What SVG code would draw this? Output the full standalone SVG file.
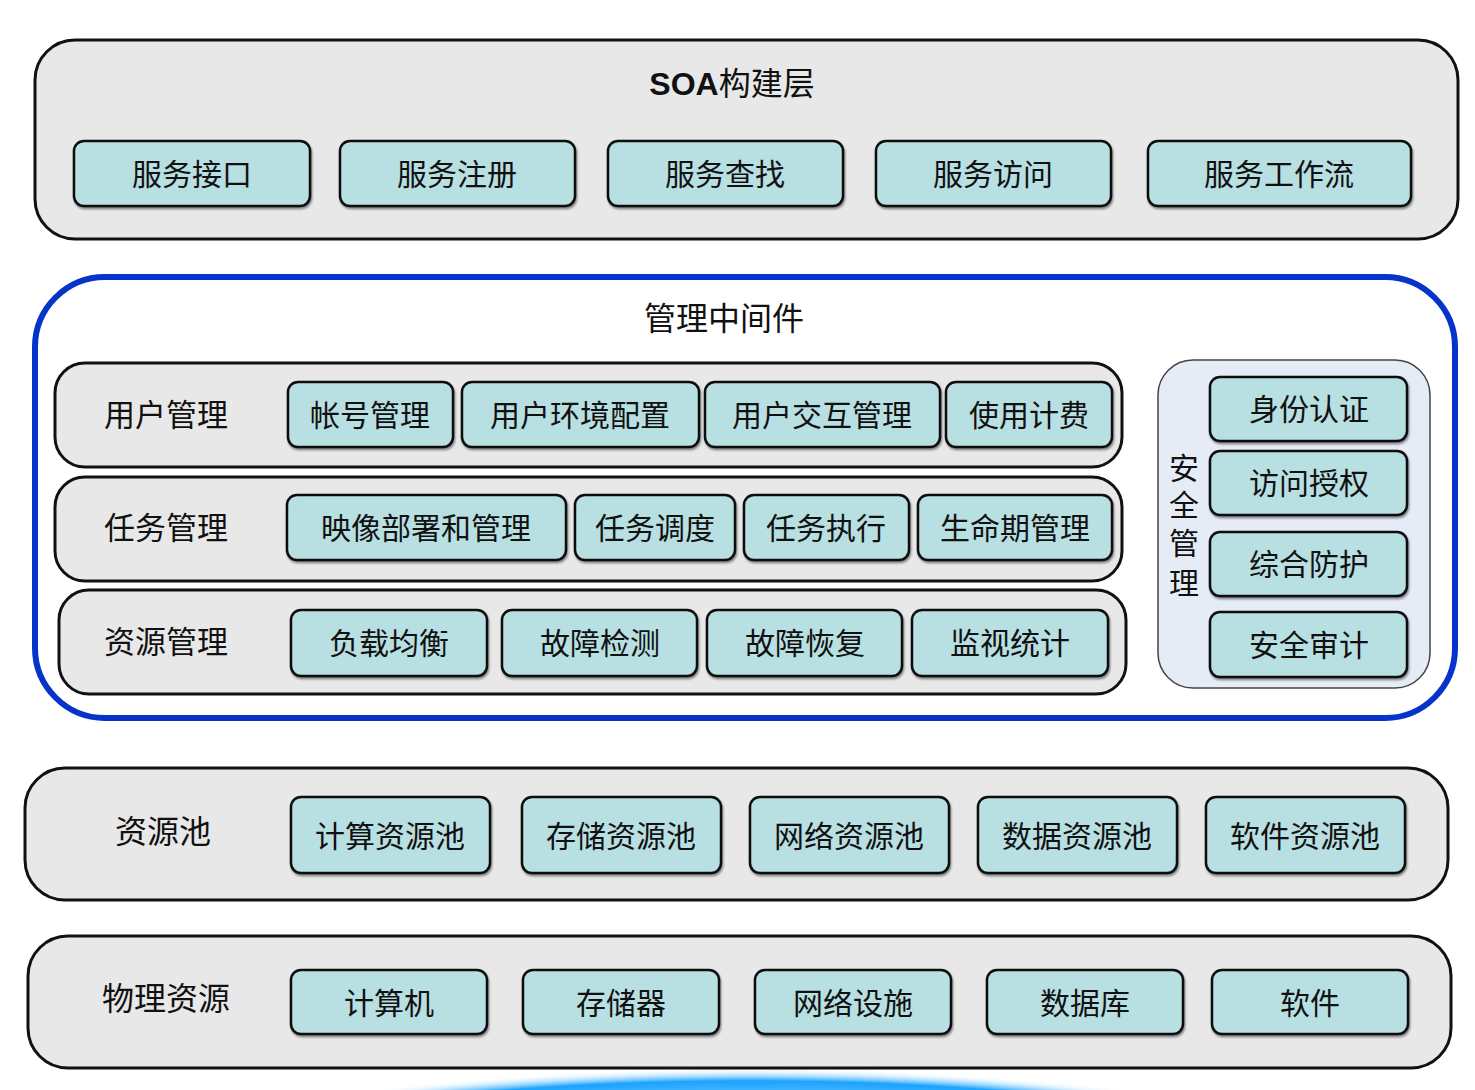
<svg xmlns="http://www.w3.org/2000/svg" width="1475" height="1090" viewBox="0 0 1475 1090">
<defs>
<filter id="sh" x="-5%" y="-5%" width="110%" height="115%"><feDropShadow dx="1" dy="2" stdDeviation="0.8" flood-color="#000" flood-opacity="0.45"/></filter>
<radialGradient id="glow" cx="0.5" cy="0.5" r="0.5">
<stop offset="0" stop-color="#e8f6ff"/>
<stop offset="0.75" stop-color="#9fd6ff"/>
<stop offset="0.93" stop-color="#1aa3ff"/>
<stop offset="1" stop-color="#ffffff" stop-opacity="0"/>
</radialGradient>
<style>
text{font-family:"Liberation Serif","Noto Sans CJK SC",serif;fill:#111;text-anchor:middle;dominant-baseline:central}
.layer{fill:#e8e8e8;stroke:#111;stroke-width:3}
.box{fill:#b8dfe2;stroke:#111;stroke-width:2.5;filter:url(#sh)}
.bt{font-size:30px}
.lt{font-size:31px}
.big{font-size:32px}
</style>
</defs>
<ellipse cx="750" cy="1251" rx="800" ry="183" fill="url(#glow)"/>

<g id="soa">
<rect class="layer" x="35" y="40" width="1423" height="199" rx="40"/>
<text x="732" y="84" class="big"><tspan font-family="Liberation Sans,sans-serif" font-weight="bold">SOA</tspan>构建层</text>
</g>
<g id="soa-1"><rect class="box" x="74" y="141" width="236" height="65" rx="10"/><text class="bt" x="192" y="174">服务接口</text></g>
<g id="soa-2"><rect class="box" x="340" y="141" width="235" height="65" rx="10"/><text class="bt" x="457" y="174">服务注册</text></g>
<g id="soa-3"><rect class="box" x="608" y="141" width="235" height="65" rx="10"/><text class="bt" x="725" y="174">服务查找</text></g>
<g id="soa-4"><rect class="box" x="876" y="141" width="235" height="65" rx="10"/><text class="bt" x="993" y="174">服务访问</text></g>
<g id="soa-5"><rect class="box" x="1148" y="141" width="263" height="65" rx="10"/><text class="bt" x="1279" y="174">服务工作流</text></g>

<g id="middleware">
<rect x="35" y="277" width="1420" height="441" rx="70" fill="#fff" stroke="#0633c9" stroke-width="6"/>
<text x="724" y="319" class="big">管理中间件</text>
</g>

<g id="user-mgmt">
<rect class="layer" x="55" y="363" width="1067" height="104" rx="30" stroke-width="2.5"/>
<text class="lt" x="166" y="415">用户管理</text>
</g>
<g id="um-1"><rect class="box" x="288" y="382" width="165" height="65" rx="10"/><text class="bt" x="370" y="415">帐号管理</text></g>
<g id="um-2"><rect class="box" x="462" y="382" width="237" height="65" rx="10"/><text class="bt" x="580" y="415">用户环境配置</text></g>
<g id="um-3"><rect class="box" x="705" y="382" width="235" height="65" rx="10"/><text class="bt" x="822" y="415">用户交互管理</text></g>
<g id="um-4"><rect class="box" x="946" y="382" width="166" height="65" rx="10"/><text class="bt" x="1029" y="415">使用计费</text></g>

<g id="task-mgmt">
<rect class="layer" x="55" y="477" width="1067" height="104" rx="30" stroke-width="2.5"/>
<text class="lt" x="166" y="528">任务管理</text>
</g>
<g id="tm-1"><rect class="box" x="287" y="495" width="279" height="65" rx="10"/><text class="bt" x="426" y="528">映像部署和管理</text></g>
<g id="tm-2"><rect class="box" x="575" y="495" width="160" height="65" rx="10"/><text class="bt" x="655" y="528">任务调度</text></g>
<g id="tm-3"><rect class="box" x="744" y="495" width="165" height="65" rx="10"/><text class="bt" x="826" y="528">任务执行</text></g>
<g id="tm-4"><rect class="box" x="918" y="495" width="194" height="65" rx="10"/><text class="bt" x="1015" y="528">生命期管理</text></g>

<g id="res-mgmt">
<rect class="layer" x="59" y="590" width="1067" height="104" rx="30" stroke-width="2.5"/>
<text class="lt" x="166" y="642">资源管理</text>
</g>
<g id="rm-1"><rect class="box" x="291" y="610" width="196" height="66" rx="10"/><text class="bt" x="389" y="643">负载均衡</text></g>
<g id="rm-2"><rect class="box" x="502" y="610" width="195" height="66" rx="10"/><text class="bt" x="600" y="643">故障检测</text></g>
<g id="rm-3"><rect class="box" x="707" y="610" width="195" height="66" rx="10"/><text class="bt" x="805" y="643">故障恢复</text></g>
<g id="rm-4"><rect class="box" x="912" y="610" width="196" height="66" rx="10"/><text class="bt" x="1010" y="643">监视统计</text></g>

<g id="security">
<rect x="1158" y="360" width="272" height="328" rx="35" fill="#e6ecf6" stroke="#444" stroke-width="1.5"/>
<text class="bt" x="1184" y="468" font-size="29">安</text>
<text class="bt" x="1184" y="505" font-size="29">全</text>
<text class="bt" x="1184" y="543" font-size="29">管</text>
<text class="bt" x="1184" y="583" font-size="29">理</text>
</g>
<g id="sec-1"><rect class="box" x="1210" y="377" width="197" height="64" rx="10"/><text class="bt" x="1309" y="409">身份认证</text></g>
<g id="sec-2"><rect class="box" x="1210" y="451" width="197" height="64" rx="10"/><text class="bt" x="1309" y="483">访问授权</text></g>
<g id="sec-3"><rect class="box" x="1210" y="532" width="197" height="64" rx="10"/><text class="bt" x="1309" y="564">综合防护</text></g>
<g id="sec-4"><rect class="box" x="1210" y="612" width="197" height="65" rx="10"/><text class="bt" x="1309" y="645">安全审计</text></g>

<g id="pool">
<rect class="layer" x="25" y="768" width="1423" height="132" rx="40"/>
<text class="big" x="163" y="832">资源池</text>
</g>
<g id="pool-1"><rect class="box" x="291" y="797" width="199" height="76" rx="10"/><text class="bt" x="390" y="836">计算资源池</text></g>
<g id="pool-2"><rect class="box" x="522" y="797" width="199" height="76" rx="10"/><text class="bt" x="621" y="836">存储资源池</text></g>
<g id="pool-3"><rect class="box" x="750" y="797" width="199" height="76" rx="10"/><text class="bt" x="849" y="836">网络资源池</text></g>
<g id="pool-4"><rect class="box" x="978" y="797" width="199" height="76" rx="10"/><text class="bt" x="1077" y="836">数据资源池</text></g>
<g id="pool-5"><rect class="box" x="1206" y="797" width="199" height="76" rx="10"/><text class="bt" x="1305" y="836">软件资源池</text></g>

<g id="physical">
<rect class="layer" x="28" y="936" width="1423" height="132" rx="40"/>
<text class="big" x="166" y="999">物理资源</text>
</g>
<g id="phy-1"><rect class="box" x="291" y="970" width="196" height="64" rx="10"/><text class="bt" x="389" y="1003">计算机</text></g>
<g id="phy-2"><rect class="box" x="523" y="970" width="196" height="64" rx="10"/><text class="bt" x="621" y="1003">存储器</text></g>
<g id="phy-3"><rect class="box" x="755" y="970" width="196" height="64" rx="10"/><text class="bt" x="853" y="1003">网络设施</text></g>
<g id="phy-4"><rect class="box" x="987" y="970" width="196" height="64" rx="10"/><text class="bt" x="1085" y="1003">数据库</text></g>
<g id="phy-5"><rect class="box" x="1212" y="970" width="196" height="64" rx="10"/><text class="bt" x="1310" y="1003">软件</text></g>

<g id="connectors"/>
</svg>
